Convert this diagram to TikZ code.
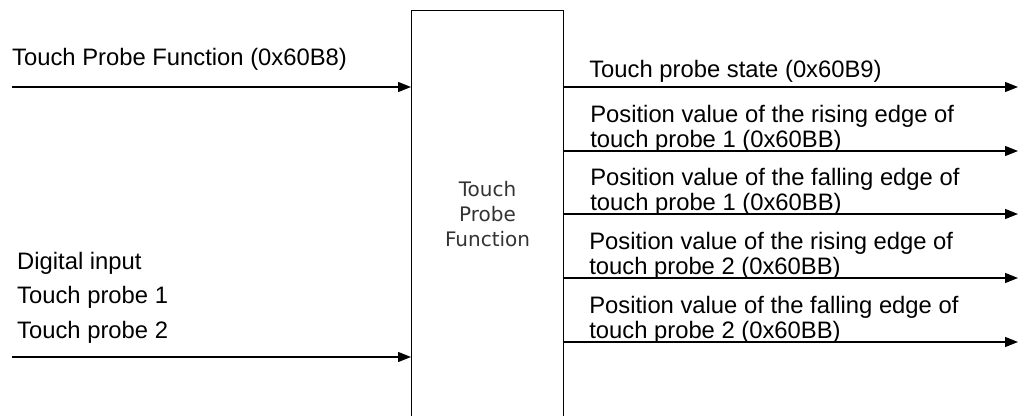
\documentclass[tikz,border=0pt]{standalone}
\usepackage{fontspec}
\setmainfont{Liberation Sans}
\newfontfamily\boxfont{DejaVu Sans}
\usetikzlibrary{arrows.meta,positioning}

\begin{document}
\begin{tikzpicture}[x=1pt,y=-1pt,
  sig/.style={line width=1.2pt,-{Triangle[length=13pt,width=10pt]}},
  lbl/.style={inner sep=0pt,font=\fontsize{23.8}{25}\selectfont,align=left}]
\useasboundingbox (0,0) rectangle (1019,415);
% function block
\node[draw,line width=1.1pt,minimum width=152pt,minimum height=407pt,anchor=north west,inner sep=0pt,
  align=center,text=black!80,font=\boxfont\fontsize{20}{25}\selectfont] (tpf) at (411,10) {Touch\\Probe\\Function};
% inputs
\coordinate (in1) at (12,87);
\coordinate (in2) at (12,357);
\draw[sig] (in1) -- (in1 -| tpf.west);
\draw[sig] (in2) -- (in2 -| tpf.west);
\node[lbl,anchor=base west] (fnlbl) at (12,65) {Touch Probe Function (0x60B8)};
\node[lbl,anchor=base west,font=\fontsize{23.8}{34.5}\selectfont] (dilbl) at (17,338) {Digital input\\Touch probe 1\\Touch probe 2};
% outputs
\foreach \y/\n in {87/1,151/2,214/3,278/4,342/5}{
  \coordinate (out\n) at (1018,\y);
  \draw[sig] (tpf.east |- out\n) -- (out\n);
}
\node[lbl,anchor=base west] (statelbl) at ([xshift=25pt,yshift=10pt]tpf.east |- out1) {Touch probe state (0x60B9)};
\node[lbl,anchor=base west] (rise1lbl) at ([xshift=26pt,yshift=4pt]tpf.east |- out2) {Position value of the rising edge of\\touch probe 1 (0x60BB)};
\node[lbl,anchor=base west] (fall1lbl) at ([xshift=26pt,yshift=4pt]tpf.east |- out3) {Position value of the falling edge of\\touch probe 1 (0x60BB)};
\node[lbl,anchor=base west] (rise2lbl) at ([xshift=25pt,yshift=4pt]tpf.east |- out4) {Position value of the rising edge of\\touch probe 2 (0x60BB)};
\node[lbl,anchor=base west] (fall2lbl) at ([xshift=25pt,yshift=4pt]tpf.east |- out5) {Position value of the falling edge of\\touch probe 2 (0x60BB)};
\end{tikzpicture}
\end{document}
